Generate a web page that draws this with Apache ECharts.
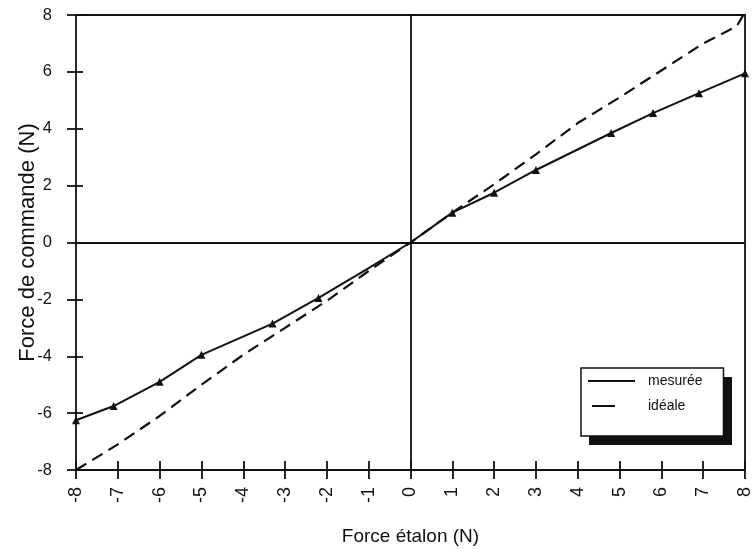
<!DOCTYPE html>
<html>
<head>
<meta charset="utf-8">
<script src="https://cdn.jsdelivr.net/npm/echarts@6/dist/echarts.min.js"></script>
<style>
  html, body { margin: 0; padding: 0; background: #fff; }
  #container { width: 753px; height: 549px; }
</style>
</head>
<body>
<div id="container"></div>
<script>
// measured points (Force étalon, Force de commande)
var mesureeX = [-8, -7.1, -6, -5, -3.3, -2.2, -1, 0, 1, 2, 3, 4.8, 5.8, 6.9, 8];
var mesureeY = [-6.25, -5.75, -4.9, -3.95, -2.85, -1.95, -0.9, 0, 1.05, 1.75, 2.55, 3.85, 4.55, 5.25, 5.95];
var noMarker = [-1, 0];

// ideal line (drawn by hand in the source, nearly y = x)
var idealeX = [-8, -7, -6, -5, -4, -3, -2, -1, 0, 1, 2, 3, 4, 5, 6, 7, 7.8, 8];
var idealeY = [-8, -7.1, -6.1, -5.0, -3.95, -3.0, -2.05, -1.0, 0, 1.05, 2.05, 3.1, 4.2, 5.1, 6.05, 7.0, 7.6, 8.1];

var xTicks = [-8, 8, 1];
var yTicks = [-8, 8, 2];

var font = 'Liberation Sans, Arial, sans-serif';

function pairs(xs, ys, skip) {
    return xs.map(function (x, i) {
        var p = { value: [x, ys[i]] };
        if (skip && skip.indexOf(x) >= 0) p.symbol = 'none';
        return p;
    });
}

var myChart = echarts.init(document.getElementById('container'));

var tickStyle = { color: '#111', width: 1.8 };

function axisBase(range) {
    return {
        type: 'value', min: range[0], max: range[1], interval: range[2],
        axisLine: { show: false, onZero: false },
        splitLine: { show: false }
    };
}

myChart.setOption({
    animation: false,
    backgroundColor: '#fff',
    grid: {
        left: 76, right: 8, top: 15, bottom: 79,
        outerBoundsMode: 'none',
        show: true, borderColor: '#111', borderWidth: 1.8
    },
    xAxis: [Object.assign(axisBase(xTicks), {
        position: 'bottom',
        axisTick: { show: true, inside: false, length: 9, lineStyle: tickStyle },
        axisLabel: { rotate: 90, margin: 17, fontSize: 18, color: '#111', fontFamily: font },
        name: 'Force étalon (N)', nameLocation: 'middle', nameGap: 57,
        nameTextStyle: { fontSize: 19, color: '#111', fontFamily: font }
    }), Object.assign(axisBase(xTicks), {
        position: 'bottom',
        axisTick: { show: true, inside: true, length: 9, lineStyle: tickStyle },
        axisLabel: { show: false }
    })],
    yAxis: [Object.assign(axisBase(yTicks), {
        position: 'left',
        axisTick: { show: true, inside: false, length: 9, lineStyle: tickStyle },
        axisLabel: { margin: 24, fontSize: 16.5, color: '#111', fontFamily: font },
        name: 'Force de commande (N)', nameLocation: 'middle', nameGap: 37,
        nameMoveOverlap: false,
        nameTextStyle: { fontSize: 22, color: '#111', fontFamily: font }
    }), Object.assign(axisBase(yTicks), {
        position: 'left',
        axisTick: { show: true, inside: true, length: 7, lineStyle: tickStyle },
        axisLabel: { show: false }
    })],
    // hard shadow behind the legend box
    graphic: [{
        type: 'rect', z: 0,
        shape: { x: 589, y: 377, width: 143, height: 68 },
        style: { fill: '#111' }
    }],
    legend: {
        orient: 'vertical',
        left: 581, top: 368,
        padding: [6, 21, 23, 7],
        itemGap: 11,
        itemWidth: 47, itemHeight: 14,
        backgroundColor: '#fff',
        borderColor: '#111', borderWidth: 1.5,
        z: 5,
        textStyle: { fontSize: 14, color: '#111', fontFamily: font, padding: [0, 0, 0, 8] },
        data: [
            { name: 'mesurée', icon: 'path://M0,0M0,6H47V8H0ZM47,14' },
            { name: 'idéale', icon: 'path://M0,0M4,6H27V8H4ZM47,14' }
        ]
    },
    series: [{
        name: 'mesurée',
        type: 'line',
        data: pairs(mesureeX, mesureeY, noMarker),
        symbol: 'triangle', symbolSize: 8,
        itemStyle: { color: '#111' },
        lineStyle: { color: '#111', width: 2 },
        markLine: {
            silent: true, symbol: 'none', label: { show: false },
            lineStyle: { color: '#111', type: 'solid', width: 1.8 },
            data: [{ xAxis: 0 }, { yAxis: 0 }]
        },
        z: 3
    }, {
        name: 'idéale',
        type: 'line',
        data: pairs(idealeX, idealeY),
        showSymbol: false,
        itemStyle: { color: '#111' },
        lineStyle: { color: '#111', width: 2.2, type: [12, 7] },
        z: 2
    }]
});
</script>
</body>
</html>
